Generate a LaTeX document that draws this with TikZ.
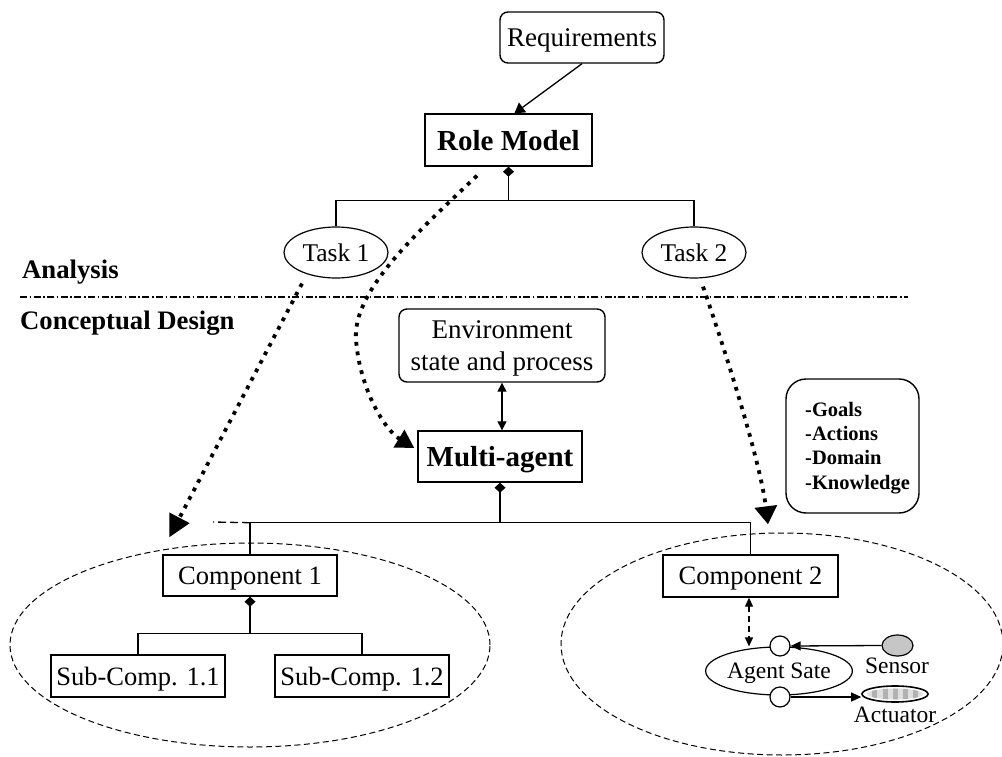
\documentclass[tikz,border=0pt]{standalone}
\usepackage{fontspec}
\setmainfont{Liberation Serif}
\usetikzlibrary{arrows.meta,shapes.geometric,calc}

\begin{document}
\begin{tikzpicture}[x=1pt,y=-1pt,
  every node/.style={inner sep=0pt, text depth=0pt},
  box/.style={draw, line width=1.4pt, fill=white},
  rbox/.style={box, rounded corners=8pt},
  oval/.style={draw, ellipse, line width=1.2pt, fill=white},
  branch/.style={line width=1.3pt},
  haswhole/.style={branch, {Diamond[length=10pt,width=11pt]}-},
  regfont/.style={font=\fontsize{27}{32}\selectfont},
  taskfont/.style={font=\fontsize{25.5}{30}\selectfont},
  compfont/.style={font=\fontsize{26.5}{31}\selectfont},
  boldfont/.style={font=\fontsize{29}{34}\selectfont\bfseries},
  secfont/.style={font=\fontsize{26.7}{31}\selectfont\bfseries},
  goalfont/.style={font=\fontsize{20.5}{24}\selectfont\bfseries},
  labelfont/.style={font=\fontsize{23.5}{28}\selectfont},
  zone/.style={draw, ellipse, dash pattern=on 6pt off 3.5pt, line width=1pt},
  dotflow/.style={line width=3.8pt, dash pattern=on 3.8pt off 5.8pt},
  smalltip/.tip={Triangle[length=9pt,width=9pt]}
]
\fill[white] (0,0) rectangle (1002,757);
\useasboundingbox (0,0) rectangle (1002,757);

% dashed regions around the two components
\node[zone, minimum width=480pt, minimum height=204pt] (zone1) at (250,645) {};
\node[zone, minimum width=442pt, minimum height=222pt] (zone2) at (782,644) {};

% phase separator and phase titles
\coordinate (sepL) at (20,297);
\coordinate (sepR) at (908,297);
\draw[line width=1.3pt, dash pattern=on 7pt off 2.5pt on 1.6pt off 2.5pt] (sepL) -- (sepR);
\node[secfont, anchor=base west] (analysis) at (22,278) {Analysis};
\node[secfont, anchor=base west] (design) at (20,329) {Conceptual Design};

% analysis nodes
\node[rbox, regfont, minimum width=164pt, minimum height=51pt] (req) at (582,37.5) {Requirements};
\node[box, boldfont, minimum width=167pt, minimum height=52pt] (role) at (508.5,140) {Role Model};
\node[oval, taskfont, minimum width=104pt, minimum height=51pt] (task1) at (336,252.5) {Task 1};
\node[oval, taskfont, minimum width=104pt, minimum height=51pt] (task2) at (694,252.5) {Task 2};

% design nodes
\node[rbox, regfont, align=center, minimum width=206pt, minimum height=73pt] (env) at (502,345.5) {Environment\\state and process};
\node[box, boldfont, minimum width=164pt, minimum height=51pt] (multi) at (500,456.5) {Multi-agent};
\node[box, rounded corners=20pt, minimum width=133pt, minimum height=134pt] (goals) at (852.5,446) {};
\node[goalfont, anchor=base west] (g1) at (805,416) {-Goals};
\node[goalfont, anchor=base west] (g2) at (805,440) {-Actions};
\node[goalfont, anchor=base west] (g3) at (805,464) {-Domain};
\node[goalfont, anchor=base west] (g4) at (805,489) {-Knowledge};

\node[box, compfont, minimum width=174pt, minimum height=41pt] (comp1) at (250,575.5) {Component 1};
\node[box, compfont, minimum width=174pt, minimum height=42pt] (sub11) at (138,676) {Sub-Comp. 1.1};
\node[box, compfont, minimum width=174pt, minimum height=42pt] (sub12) at (362,676) {Sub-Comp. 1.2};
\node[box, compfont, minimum width=175pt, minimum height=42pt] (comp2) at (750.5,576) {Component 2};

% agent internals
\node[oval, labelfont, minimum width=124pt, minimum height=48pt] (agent) at (779,671) {Agent Sate};
\node[circle, draw, fill=white, line width=1.2pt, minimum size=20pt] (cin) at (780,646) {};
\node[circle, draw, fill=white, line width=1.2pt, minimum size=20pt] (cout) at (780,697) {};
\node[ellipse, draw, fill=gray!45, line width=1.2pt, minimum width=31pt, minimum height=21pt] (sensor) at (897.5,645.5) {};
\node[labelfont, anchor=base] (sensortext) at (897,673) {Sensor};
\node[ellipse, draw, fill=white, line width=1.6pt, minimum width=66pt, minimum height=16pt] (actuator) at (895,694) {};
\begin{scope}
  \clip (895,694) ellipse [x radius=28pt, y radius=5.5pt];
  \fill[gray!25] (865,686) rectangle (925,702);
  \foreach \u in {872,883,893,903,913} \fill[gray!60] (\u,686) rectangle ++(5,16);
\end{scope}
\node[labelfont, anchor=base] (actuatortext) at (895,722) {Actuator};

% aggregation trees
\coordinate (rolefork) at ($(role.south)+(0,34)$);
\draw[haswhole] (role.south) -- (rolefork) -| (task1.north);
\draw[branch] (rolefork) -| (task2.north);

\coordinate (multifork) at ($(multi.south)+(0,40)$);
\draw[haswhole] (multi.south) -- (multifork) -| (comp1.north);
\draw[branch] (multifork) -| (comp2.north);
\coordinate (forkstub) at (213,522);
\draw[branch, dash pattern=on 8pt off 4pt] (comp1.north |- multifork) -- (forkstub);

\coordinate (compfork) at ($(comp1.south)+(0,37)$);
\draw[haswhole] (comp1.south) -- (compfork) -| (sub11.north);
\draw[branch] (compfork) -| (sub12.north);

% plain connectors
\draw[branch, -{Triangle[length=10pt,width=12pt]}] (req.south) -- ($(role.north)+(6,0)$);
\draw[branch, smalltip-smalltip] (env.south) -- (env.south |- multi.north);
\coordinate (c2a) at ($(comp2.south)+(-1.5,0)$);
\draw[branch, dash pattern=on 6pt off 4pt, {Triangle[length=9pt,width=8pt]}-{Triangle[length=9pt,width=8pt]}] (c2a) -- (c2a |- agent.north);
\draw[branch, -{Triangle[length=10pt,width=9pt]}] (sensor.west) -- (cin.east);
\draw[branch, -{Triangle[length=10pt,width=9pt]}] (cout.east) -- (cout.east -| actuator.west);

% refinement flows from analysis to design
\draw[dotflow, -{Triangle[length=18pt,width=20pt]}] ($(role.south)+(-31.5,9)$)
  .. controls (420,230) and (352,290) .. (356,340)
  .. controls (360,390) and (385,430) .. ($(multi.west)+(-3,-8.5)$);
\draw[dotflow, -{Triangle[length=22pt,width=22pt]}] ($(task1.south)+(-34,5)$) -- ($(comp1.north west)+(7,-17)$);
\draw[dotflow, -{Triangle[length=18pt,width=22pt]}] ($(task2.south)+(9,8)$)
  .. controls (725,350) and (760,460) .. ($(comp2.north)+(17.5,-30)$);
\end{tikzpicture}
\end{document}
